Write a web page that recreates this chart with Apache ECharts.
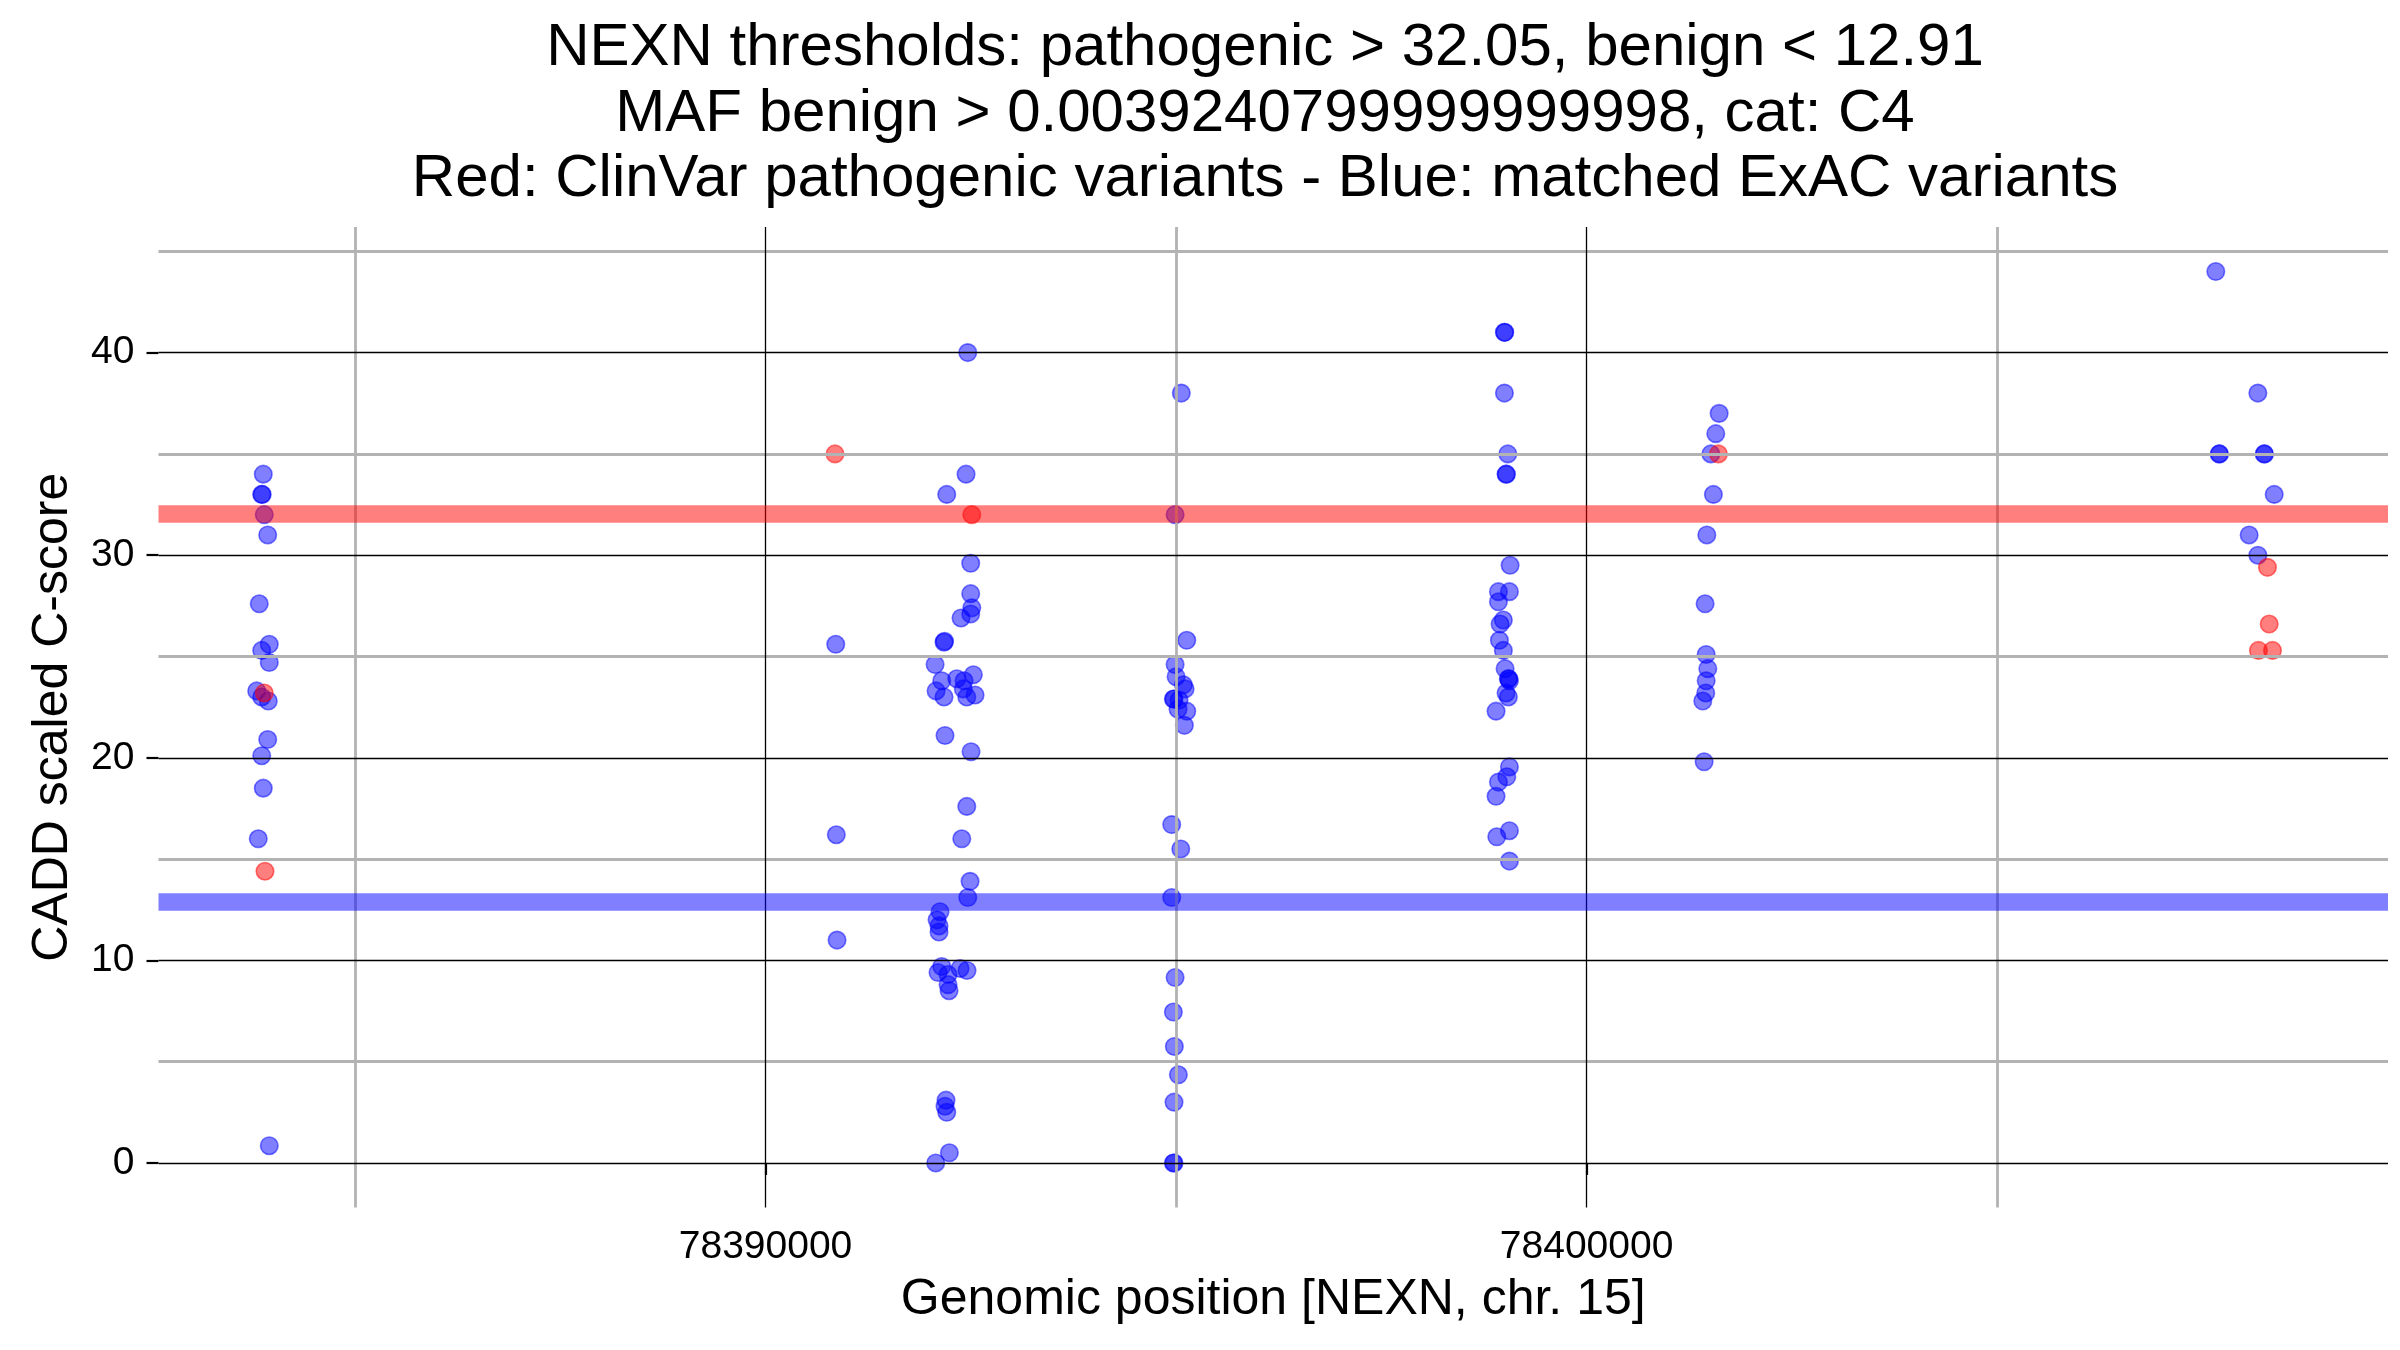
<!DOCTYPE html>
<html><head><meta charset="utf-8">
<script src="https://cdn.jsdelivr.net/npm/echarts@6/dist/echarts.min.js"></script>
<style>html,body{margin:0;padding:0;background:#fff}#c{width:2400px;height:1350px}</style>
</head><body><div id="c"></div>
<script>
const titleLines = [
  'NEXN thresholds: pathogenic > 32.05, benign < 12.91',
  'MAF benign > 0.0039240799999999998, cat: C4',
  'Red: ClinVar pathogenic variants - Blue: matched ExAC variants'
];
const xAxisTitle = 'Genomic position [NEXN, chr. 15]';
const yAxisTitle = 'CADD scaled C-score';
const xTickValues = [78390000, 78400000];
const xMinorValues = [78385000, 78395000, 78405000];
const yTickValues = [0, 10, 20, 30, 40];
const yMinorValues = [5, 15, 25, 35, 45];
const xRange = [78382607, 78409760];
const yRange = [-2.2, 46.2];
const thresholdPathogenic = 32.05;
const thresholdBenign = 12.91;

// matched ExAC variants (blue)
const exacPos = [
  78383883, 78383864, 78383870, 78383895, 78383937, 78383834, 78383956, 78383864, 78383956, 78383803,
  78383864, 78383944, 78383937, 78383864, 78383883, 78383822, 78383956,
  78390855, 78390862, 78390871,
  78392463, 78392442, 78392207, 78392499, 78392499, 78392512, 78392499, 78392381, 78392174, 78392180,
  78392065, 78392146, 78392329, 78392418, 78392531, 78392077, 78392174, 78392451, 78392552, 78392409,
  78392186, 78392503, 78392451, 78392390, 78392491, 78392463, 78392125, 78392089, 78392113, 78392113,
  78392146, 78392101, 78392223, 78392369, 78392454, 78392223, 78392235, 78392198, 78392186, 78392207,
  78392239, 78392073,
  78395064, 78394988, 78395130, 78394988, 78395000, 78395089, 78395110, 78394967, 78394975, 78395036,
  78395024, 78395130, 78395101, 78394947, 78395057, 78394947, 78394988, 78394967, 78394979, 78395028,
  78394975, 78394967, 78394975,
  78398999, 78399003, 78398999, 78399040, 78399019, 78399023, 78399068, 78398926, 78399060, 78398926,
  78398986, 78398946, 78398938, 78398986, 78399007, 78399047, 78399052, 78399060, 78399019, 78399047,
  78398897, 78399060, 78399028, 78398926, 78398897, 78399060, 78398906, 78399060,
  78401614, 78401573, 78401513, 78401544, 78401464, 78401443, 78401456, 78401476, 78401456, 78401451,
  78401415, 78401431,
  78407663, 78408175, 78407704, 78407708, 78408252, 78408256, 78408374, 78408069, 78408175
];
const exacScore = [
  34.0, 33.0, 33.0, 32.0, 31.0, 27.6, 25.6, 25.3, 24.7, 23.3,
  23.0, 22.8, 20.9, 20.1, 18.5, 16.0, 0.85,
  25.6, 16.2, 11.0,
  40.0, 34.0, 33.0, 29.6, 28.1, 27.4, 27.1, 26.9, 25.7, 25.75,
  24.6, 23.8, 23.9, 23.8, 24.1, 23.3, 23.0, 23.0, 23.1, 23.4,
  21.1, 20.3, 17.6, 16.0, 13.9, 13.1, 12.4, 12.0, 11.7, 11.4,
  9.7, 9.4, 9.3, 9.6, 9.5, 8.8, 8.5, 3.1, 2.8, 2.5,
  0.5, 0.0,
  38.0, 32.0, 25.8, 24.6, 24.0, 23.6, 23.4, 22.9, 22.9, 22.85,
  22.4, 22.3, 21.6, 16.7, 15.5, 13.1, 9.15, 7.45, 5.75, 4.35,
  3.0, 0.0, 0.0,
  41.0, 41.0, 38.0, 35.0, 34.0, 34.0, 29.5, 28.2, 28.2, 27.7,
  26.8, 26.6, 25.8, 25.3, 24.4, 23.9, 23.9, 23.8, 23.2, 23.0,
  22.3, 19.55, 19.06, 18.8, 18.1, 16.4, 16.1, 14.9,
  37.0, 36.0, 35.0, 33.0, 31.0, 27.6, 25.1, 24.4, 23.8, 23.2,
  22.8, 19.8,
  44.0, 38.0, 35.0, 35.0, 35.0, 35.0, 33.0, 31.0, 30.0
];
// ClinVar pathogenic variants (red)
const clinvarPos = [78383895, 78383904, 78390846, 78392512, 78401605, 78408292, 78408313, 78408182, 78408353];
const clinvarScore = [23.2, 14.4, 35.0, 32.0, 35.0, 29.4, 26.6, 25.3, 25.3];

const FONT = "'Liberation Sans', Arial, Helvetica, sans-serif";
const chart = echarts.init(document.getElementById('c'), null, {renderer: 'canvas'});

const pts = (xs, ys) => xs.map((x, i) => [x, ys[i]]);
const gridLines = [].concat(
  xMinorValues.map(v => ({xAxis: v, lineStyle: {color: '#b3b3b3', width: 2.8, type: 'solid'}})),
  yMinorValues.map(v => ({yAxis: v, lineStyle: {color: '#b3b3b3', width: 2.8, type: 'solid'}})),
  xTickValues.map(v => ({xAxis: v, lineStyle: {color: '#000', width: 1.3, type: 'solid'}})),
  yTickValues.map(v => ({yAxis: v, lineStyle: {color: '#000', width: 1.3, type: 'solid'}}))
);
const tickLine = {color: '#000000', width: 2.2, opacity: 1};

const option = {
  animation: false,
  backgroundColor: '#fff',
  textStyle: {fontFamily: FONT},
  graphic: [{
    type: 'text', x: 1265, y: 16, z: 10,
    style: {
      text: titleLines.join('\n'), font: '60px ' + FONT, fill: '#000',
      textAlign: 'center', textVerticalAlign: 'top', lineHeight: 65.5
    }
  }],
  grid: {left: 158.5, right: 12, top: 227, bottom: 142.5, containLabel: false},
  xAxis: {
    type: 'value', min: xRange[0], max: xRange[1],
    axisLine: {show: false},
    axisTick: {show: true, customValues: xTickValues, length: 12, inside: false, lineStyle: tickLine},
    axisLabel: {show: true, customValues: xTickValues, color: '#000', fontSize: 39, fontFamily: FONT, margin: 20,
      formatter: v => String(v)},
    splitLine: {show: false},
    name: xAxisTitle, nameLocation: 'middle', nameGap: 68,
    nameTextStyle: {fontSize: 50, color: '#000', fontFamily: FONT}
  },
  yAxis: {
    type: 'value', min: yRange[0], max: yRange[1],
    axisLine: {show: false},
    axisTick: {show: true, customValues: yTickValues, length: 12, inside: false, lineStyle: tickLine},
    axisLabel: {show: true, customValues: yTickValues, color: '#000', fontSize: 39, fontFamily: FONT, margin: 24},
    splitLine: {show: false},
    name: yAxisTitle, nameLocation: 'middle', nameGap: 80, nameRotate: 90,
    nameTextStyle: {fontSize: 50, color: '#000', fontFamily: FONT}
  },
  series: [
    {
      type: 'scatter', data: [], z: 1, silent: true,
      markLine: {silent: true, symbol: ['none', 'none'], label: {show: false}, animation: false, data: gridLines}
    },
    {
      type: 'scatter', z: 2, data: pts(exacPos, exacScore), symbolSize: 17.5,
      itemStyle: {color: 'rgba(0,0,255,0.5)', borderColor: 'rgba(0,0,255,0.5)', borderWidth: 1.6, opacity: 1}
    },
    {
      type: 'scatter', z: 3, data: pts(clinvarPos, clinvarScore), symbolSize: 17.5,
      itemStyle: {color: 'rgba(255,0,0,0.5)', borderColor: 'rgba(255,0,0,0.5)', borderWidth: 1.6, opacity: 1}
    },
    {
      type: 'scatter', data: [], z: 4, silent: true,
      markLine: {silent: true, symbol: ['none', 'none'], label: {show: false}, animation: false,
        data: [
          {yAxis: thresholdPathogenic, lineStyle: {color: 'rgba(255,0,0,0.5)', width: 17.5, type: 'solid'}},
          {yAxis: thresholdBenign, lineStyle: {color: 'rgba(0,0,255,0.5)', width: 17.5, type: 'solid'}}
        ]}
    }
  ]
};
chart.setOption(option);
</script>
</body></html>
